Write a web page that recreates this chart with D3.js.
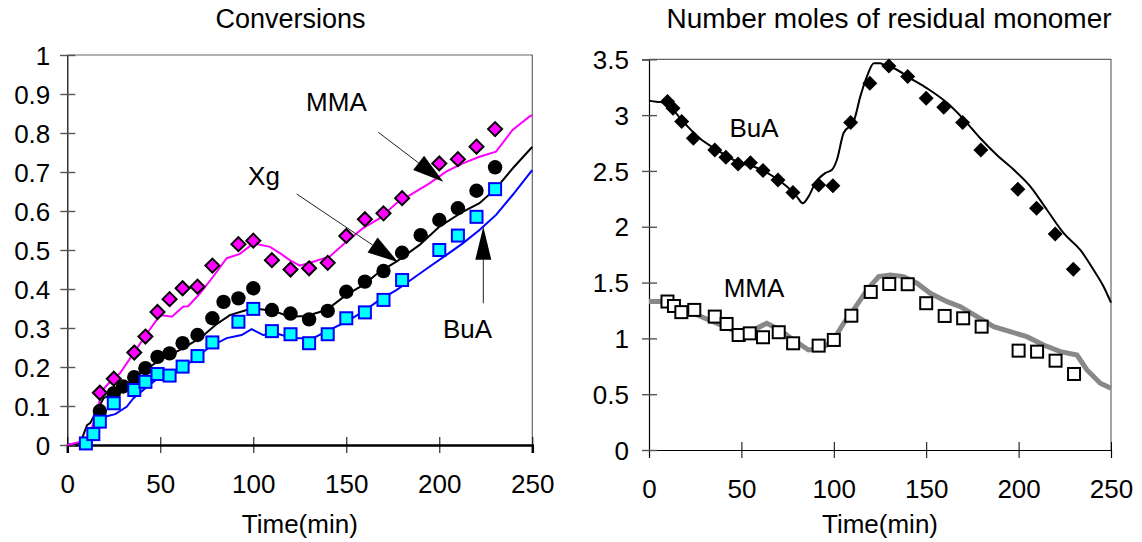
<!DOCTYPE html>
<html>
<head>
<meta charset="utf-8">
<script src="https://cdn.jsdelivr.net/npm/d3@7/dist/d3.min.js"></script>
<style>
  html, body { margin: 0; padding: 0; background: #fff; }
  svg { display: block; }
  text { font-family: "Liberation Sans", Arial, sans-serif; fill: #000; }
</style>
</head>
<body>
<svg id="chart" width="1142" height="542"></svg>
<script>
// ---------------- DATA ----------------
// Left chart: Conversions
const xTicks = [0, 50, 100, 150, 200, 250];
const leftYTicks = [0, 0.1, 0.2, 0.3, 0.4, 0.5, 0.6, 0.7, 0.8, 0.9, 1];
const rightYTicks = [0, 0.5, 1, 1.5, 2, 2.5, 3, 3.5];

// experimental MMA conversion (diamonds)
const mmaExpT = [17.5, 25, 36, 42, 48.5, 55, 62, 70, 78, 92, 100, 110, 120, 130, 140, 150, 160, 170, 180, 200, 210, 220, 230];
const mmaExpV = [0.134, 0.17, 0.237, 0.278, 0.341, 0.374, 0.402, 0.406, 0.46, 0.515, 0.524, 0.474, 0.45, 0.453, 0.467, 0.536, 0.579, 0.594, 0.633, 0.722, 0.733, 0.765, 0.81];

// experimental global conversion Xg (circles)
const xgExpT = [17.5, 25, 30, 36, 42, 48.5, 55, 62, 70, 78, 84, 92, 100, 110, 120, 130, 140, 150, 160, 170, 180, 190, 200, 210, 220, 230];
const xgExpV = [0.087, 0.133, 0.15, 0.174, 0.197, 0.226, 0.235, 0.261, 0.282, 0.325, 0.367, 0.376, 0.402, 0.346, 0.337, 0.322, 0.344, 0.393, 0.419, 0.446, 0.493, 0.538, 0.577, 0.607, 0.652, 0.712];

// experimental BuA conversion (squares)
const buaExpT = [10, 14, 17.5, 25, 36, 42, 48.5, 55, 62, 70, 78, 92, 100, 110, 120, 130, 140, 150, 160, 170, 180, 200, 210, 220, 230];
const buaExpV = [0.004, 0.028, 0.06, 0.107, 0.141, 0.162, 0.182, 0.178, 0.201, 0.228, 0.263, 0.316, 0.349, 0.292, 0.284, 0.261, 0.284, 0.325, 0.34, 0.372, 0.423, 0.5, 0.537, 0.585, 0.656];

// model MMA conversion (magenta line)
const mmaModT = [0, 6.8, 11.4, 14, 16.8, 19, 23, 28.3, 35.6, 42.8, 49.9, 56.2, 62.4, 65, 71.4, 78.5, 85.7, 92.8, 100, 109, 114.3, 119.6, 125, 132.1, 141, 150, 159, 167.9, 176.9, 185.8, 194.7, 203.7, 212.6, 221.6, 230.5, 239.4, 248.4, 250];
const mmaModV = [0, 0.008, 0.021, 0.056, 0.103, 0.141, 0.162, 0.184, 0.235, 0.286, 0.333, 0.329, 0.355, 0.356, 0.389, 0.432, 0.479, 0.49, 0.517, 0.508, 0.492, 0.474, 0.46, 0.47, 0.483, 0.521, 0.556, 0.581, 0.62, 0.645, 0.671, 0.701, 0.722, 0.739, 0.752, 0.808, 0.842, 0.846];

// model Xg (black line)
const xgModT = [0, 7, 10.6, 12.3, 19.5, 28.4, 39.2, 49.9, 60.6, 71.4, 80.3, 87.4, 96.4, 100, 110.7, 119.6, 128.6, 139.3, 150, 159, 167.9, 176.9, 189.4, 200.1, 212.6, 221.6, 230.5, 239.4, 249.3, 250];
const xgModV = [0, 0.005, 0.051, 0.056, 0.12, 0.141, 0.184, 0.218, 0.244, 0.274, 0.31, 0.333, 0.346, 0.35, 0.344, 0.329, 0.331, 0.346, 0.385, 0.41, 0.444, 0.47, 0.513, 0.56, 0.598, 0.62, 0.658, 0.709, 0.761, 0.764];

// model BuA conversion (blue line)
const buaModT = [0, 6.8, 12.3, 16.8, 19.5, 21.3, 25.8, 31.9, 35.6, 42.8, 49.9, 58.8, 67.8, 76.7, 85.7, 93.7, 99.1, 105.3, 112.5, 121.4, 132.1, 141, 150, 159, 167.9, 176.9, 185.8, 194.7, 203.7, 212.6, 221.6, 230.5, 239.4, 249.3, 250];
const buaModV = [0, 0.006, 0.021, 0.06, 0.073, 0.074, 0.079, 0.098, 0.12, 0.149, 0.175, 0.188, 0.218, 0.252, 0.274, 0.282, 0.297, 0.282, 0.286, 0.274, 0.274, 0.295, 0.316, 0.342, 0.372, 0.397, 0.427, 0.457, 0.487, 0.517, 0.551, 0.59, 0.641, 0.701, 0.705];

// Right chart: Number moles of residual monomer
const rBuaExpT = [10, 13, 17.7, 24, 35.6, 41.6, 48.2, 54.9, 61.7, 69.8, 77.9, 91.8, 99.5, 109.1, 119.5, 129.8, 140, 150, 159.5, 169.7, 179.6, 199.6, 209.7, 219.8, 229.6];
const rBuaExpV = [3.121, 3.062, 2.942, 2.793, 2.688, 2.623, 2.563, 2.574, 2.503, 2.419, 2.306, 2.375, 2.368, 2.933, 3.286, 3.441, 3.345, 3.151, 3.071, 2.933, 2.688, 2.336, 2.166, 1.935, 1.619];

const rMmaExpT = [10, 13.5, 17.5, 24.5, 35.6, 42, 48.5, 54.5, 61.7, 70.2, 78, 91.8, 100, 109.5, 120, 130, 140, 150, 160, 170, 180, 200, 210, 220, 230];
const rMmaExpV = [1.33, 1.29, 1.235, 1.255, 1.195, 1.129, 1.03, 1.045, 1.01, 1.055, 0.956, 0.935, 0.986, 1.203, 1.416, 1.487, 1.485, 1.315, 1.201, 1.18, 1.105, 0.89, 0.881, 0.8, 0.681];

const rBuaModT = [0, 4, 8.7, 18.5, 27.6, 36.6, 49.3, 56.5, 67.3, 74.6, 80, 83.2, 86.3, 89.9, 95.3, 99, 101.7, 105.3, 110.7, 114.4, 118, 121.7, 125.2, 127, 132.5, 141.5, 150.5, 161.3, 170.4, 179.4, 188.4, 197.4, 206.4, 215.4, 224.5, 233.5, 240.7, 246.1, 250];
const rBuaModV = [3.13, 3.12, 3.11, 2.94, 2.79, 2.69, 2.57, 2.54, 2.45, 2.36, 2.27, 2.21, 2.27, 2.39, 2.48, 2.51, 2.6, 2.84, 2.94, 3.17, 3.35, 3.465, 3.465, 3.45, 3.42, 3.33, 3.24, 3.11, 2.96, 2.79, 2.64, 2.51, 2.36, 2.15, 1.94, 1.79, 1.61, 1.46, 1.32];

const rMmaModT = [0, 6, 13, 24, 36.6, 47.4, 56.5, 63.7, 70.9, 78.1, 86.3, 93.5, 99.8, 105.3, 110.7, 118, 124.3, 130.6, 137.8, 145, 152.2, 161.3, 168.5, 177.5, 186.5, 195.5, 204.5, 213.5, 222.6, 231.6, 237, 244.2, 250];
const rMmaModV = [1.33, 1.33, 1.28, 1.225, 1.135, 1.06, 1.075, 1.135, 1.075, 0.986, 0.896, 0.911, 0.986, 1.135, 1.255, 1.434, 1.553, 1.568, 1.553, 1.494, 1.404, 1.329, 1.284, 1.194, 1.105, 1.06, 1.015, 0.941, 0.881, 0.851, 0.717, 0.598, 0.553];

const zip = (t, v) => t.map((d, i) => [d, v[i]]);

// ---------------- DRAW ----------------
const svg = d3.select("#chart");
svg.append("rect").attr("width", 1142).attr("height", 542).attr("fill", "#fff");

const FS = 26;

const lx = d3.scaleLinear().domain([0, 250]).range([67.3, 532.3]);
const ly = d3.scaleLinear().domain([0, 1]).range([445, 55]);
const rx = d3.scaleLinear().domain([0, 250]).range([649, 1111]);
const ry = d3.scaleLinear().domain([0, 3.5]).range([450, 59.3]);

function frame(x, y, yTicks, yFmt, xAxisW, yLabelOff, xLabelY) {
  const g = svg.append("g");
  const [x0, x1] = x.range();
  const [y0, y1] = y.range();
  g.append("path").attr("d", `M${x0},${y1}H${x1}V${y0}`).attr("fill", "none").attr("stroke", "#666").attr("stroke-width", 1.2);
  const xa = g.append("g").attr("transform", `translate(0,${y0})`)
    .call(d3.axisBottom(x).tickValues(xTicks).tickFormat(d3.format("d")).tickSizeOuter(0).tickSize(8));
  xa.select(".domain").attr("stroke", "#000").attr("stroke-width", xAxisW);
  xa.selectAll(".tick line").attr("y1", -8).attr("y2", 8).attr("stroke", "#000");
  xa.selectAll(".tick text").attr("y", xLabelY).attr("dy", 0).attr("font-size", FS).attr("font-family", "Liberation Sans, Arial, sans-serif").attr("fill", "#000");
  const ya = g.append("g").attr("transform", `translate(${x0},0)`)
    .call(d3.axisLeft(y).tickValues(yTicks).tickFormat(yFmt).tickSizeOuter(0).tickSize(7));
  ya.select(".domain").attr("stroke", "#000").attr("stroke-width", 1.2);
  ya.selectAll(".tick line").attr("x1", -7).attr("x2", 8).attr("stroke", "#555").attr("stroke-width", 1.4);
  ya.selectAll(".tick text").attr("x", yLabelOff).attr("dy", "0.35em").attr("font-size", FS).attr("font-family", "Liberation Sans, Arial, sans-serif").attr("fill", "#000");
  return g;
}

frame(lx, ly, leftYTicks, d => d === 0 ? "0" : d === 1 ? "1" : d3.format(".1f")(d), 2.5, -17, 48);
frame(rx, ry, rightYTicks, d => (Number.isInteger(d) ? d3.format("d")(d) : d3.format(".1f")(d)), 1.2, -20, 48);

// Titles
svg.append("text").attr("x", 290.5).attr("y", 28).attr("text-anchor", "middle").attr("font-size", 27).text("Conversions");
svg.append("text").attr("x", 889).attr("y", 28).attr("text-anchor", "middle").attr("font-size", 28).text("Number moles of residual monomer");
svg.append("text").attr("x", 299.8).attr("y", 533).attr("text-anchor", "middle").attr("font-size", FS).text("Time(min)");
svg.append("text").attr("x", 880).attr("y", 533).attr("text-anchor", "middle").attr("font-size", FS).text("Time(min)");

// ---- Left lines
const lline = d3.line().x(d => lx(d[0])).y(d => ly(d[1]));
svg.append("path").datum(zip(buaModT, buaModV)).attr("d", lline).attr("fill", "none").attr("stroke", "#0000ff").attr("stroke-width", 2);
svg.append("path").datum(zip(xgModT, xgModV)).attr("d", lline).attr("fill", "none").attr("stroke", "#000").attr("stroke-width", 2);
svg.append("path").datum(zip(mmaModT, mmaModV)).attr("d", lline).attr("fill", "none").attr("stroke", "#ff00ff").attr("stroke-width", 2);

// ---- Left markers
svg.append("g").selectAll("circle").data(zip(xgExpT, xgExpV)).join("circle")
  .attr("cx", d => lx(d[0])).attr("cy", d => ly(d[1])).attr("r", 7.2).attr("fill", "#000");
const dia = (s) => `M0,${-s}L${s},0L0,${s}L${-s},0Z`;
svg.append("g").selectAll("path").data(zip(mmaExpT, mmaExpV)).join("path")
  .attr("transform", d => `translate(${lx(d[0])},${ly(d[1])})`).attr("d", dia(7))
  .attr("fill", "#ff00ff").attr("stroke", "#000").attr("stroke-width", 2);
svg.append("g").selectAll("rect").data(zip(buaExpT, buaExpV)).join("rect")
  .attr("x", d => lx(d[0]) - 6).attr("y", d => ly(d[1]) - 6).attr("width", 12).attr("height", 12)
  .attr("fill", "#00ffff").attr("stroke", "#0000ff").attr("stroke-width", 2);

// ---- Right lines
svg.append("path").datum(zip(rMmaModT, rMmaModV))
  .attr("d", d3.line().x(d => rx(d[0])).y(d => ry(d[1])))
  .attr("fill", "none").attr("stroke", "#888").attr("stroke-width", 5);
svg.append("path").datum(zip(rBuaModT, rBuaModV))
  .attr("d", d3.line().curve(d3.curveMonotoneX).x(d => rx(d[0])).y(d => ry(d[1])))
  .attr("fill", "none").attr("stroke", "#000").attr("stroke-width", 2);

// ---- Right markers
svg.append("g").selectAll("path").data(zip(rBuaExpT, rBuaExpV)).join("path")
  .attr("transform", d => `translate(${rx(d[0])},${ry(d[1])})`).attr("d", dia(7.5)).attr("fill", "#000");
svg.append("g").selectAll("rect").data(zip(rMmaExpT, rMmaExpV)).join("rect")
  .attr("x", d => rx(d[0]) - 6).attr("y", d => ry(d[1]) - 6).attr("width", 12).attr("height", 12)
  .attr("fill", "#fff").attr("stroke", "#000").attr("stroke-width", 2);

// ---- Annotations
function arrow(x1, y1, x2, y2, len, hw) {
  const dx = x2 - x1, dy = y2 - y1, L = Math.hypot(dx, dy);
  const ux = dx / L, uy = dy / L;
  const bx = x2 - ux * len, by = y2 - uy * len;
  svg.append("line").attr("x1", x1).attr("y1", y1).attr("x2", bx).attr("y2", by).attr("stroke", "#222").attr("stroke-width", 1);
  svg.append("path").attr("d", `M${x2},${y2}L${bx - uy * hw},${by + ux * hw}L${bx + uy * hw},${by - ux * hw}Z`).attr("fill", "#000");
}
arrow(378.3, 132.3, 443.3, 181.7, 31, 9);
arrow(296.7, 194, 398.3, 262.3, 31, 9);
arrow(483.3, 303.3, 483.3, 226.7, 33, 8);

svg.append("text").attr("x", 336.4).attr("y", 111).attr("text-anchor", "middle").attr("font-size", FS).text("MMA");
svg.append("text").attr("x", 264).attr("y", 185).attr("text-anchor", "middle").attr("font-size", FS).text("Xg");
svg.append("text").attr("x", 467.5).attr("y", 338).attr("text-anchor", "middle").attr("font-size", FS).text("BuA");
svg.append("text").attr("x", 754).attr("y", 137).attr("text-anchor", "middle").attr("font-size", FS).text("BuA");
svg.append("text").attr("x", 754).attr("y", 296.7).attr("text-anchor", "middle").attr("font-size", FS).text("MMA");
</script>
</body>
</html>
